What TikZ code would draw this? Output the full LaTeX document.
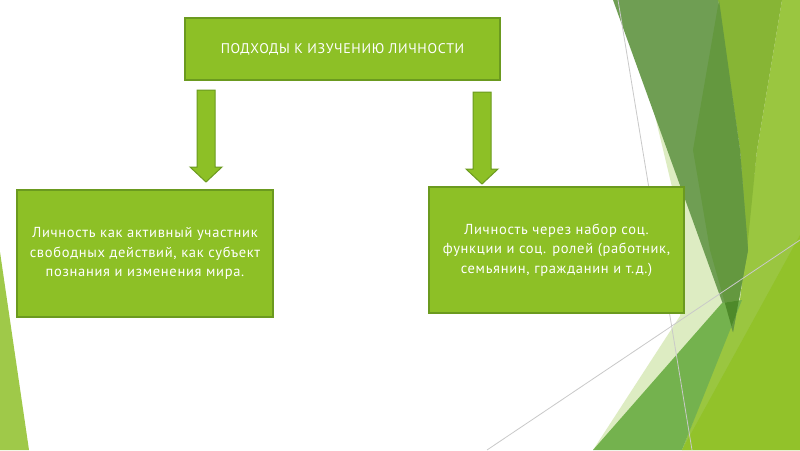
\documentclass[tikz,border=0pt]{standalone}
\usepackage{fontspec}
\setmainfont{PT Sans}[LetterSpace=4.8]
\usetikzlibrary{positioning}
\definecolor{boxgreen}{HTML}{8DC026}
\definecolor{boxedge}{HTML}{6B9A1F}
\definecolor{greygreen}{HTML}{6F9E53}
\definecolor{darkband}{HTML}{64983F}
\definecolor{darktip}{HTML}{4E8A2A}
\definecolor{yellowgreen}{HTML}{87B535}
\definecolor{lightgreen}{HTML}{9AC640}
\definecolor{palegreen}{HTML}{DDECC2}
\definecolor{midgreen}{HTML}{74B24E}
\definecolor{brightgreen}{HTML}{92C22A}
\definecolor{thinline}{HTML}{C9C9C9}
\tikzset{
    block/.style={
           rectangle,
           draw=boxedge, line width=1.2pt,
           fill=boxgreen,
           text=white,
           align=center,
           inner sep=2pt,
           text centered,
           },
    arrowbody/.style={
           draw=boxedge, line width=1pt,
           fill=boxgreen,
           },
    downarr/.pic={
           \draw[arrowbody] (-9,0) -- (-9,77) -- (-16,77) -- (0,92)
                 -- (16,77) -- (9,77) -- (9,0) -- cycle;
           },
}

\begin{document}
\begin{tikzpicture}[x=1pt,y=-1pt]
	\useasboundingbox (0,0) rectangle (800,450);
	\fill[white] (0,0) rectangle (800,450);
	% background facets
	\fill[lightgreen!95!white] (0,252) -- (29,450) -- (0,450) -- cycle;
	\fill[palegreen] (650,95) -- (672,187) -- (683,300) -- (680,316)
		-- (593,450) -- (760,330) -- cycle;
	\fill[lightgreen] (782,0) -- (800,0) -- (800,450) -- (682,450)
		-- (740,300) -- (757,150) -- cycle;
	\fill[yellowgreen] (718,0) -- (782,0) -- (757,150) -- (747,250)
		-- (740,150) -- cycle;
	\fill[greygreen] (613,0) -- (718,0) -- (740,150) -- (748,250)
		-- (733,332) -- cycle;
	\fill[darkband] (719,0) -- (740,150) -- (748,250) -- (733,332)
		-- (710,250) -- (693,150) -- cycle;
	\fill[midgreen] (593,450) -- (682,450) -- (742,300) -- (722,303) -- cycle;
	\begin{scope}
		\clip (593,450) -- (682,450) -- (742,300) -- (722,303) -- cycle;
		\fill[darktip] (719,0) -- (740,150) -- (748,250) -- (733,332)
			-- (710,250) -- (693,150) -- cycle;
	\end{scope}
	\fill[brightgreen] (682,450) -- (800,235) -- (800,450) -- cycle;
	\draw[thinline, line width=0.8pt] (618,0) -- (692,450);
	\draw[thinline, line width=0.8pt] (487,450) -- (800,240);

	% title and the two approaches
	\node[block, minimum width=315pt, minimum height=62pt,
		font=\fontsize{14}{17}\selectfont] (approach) at (342.5,49)
		{ПОДХОДЫ К ИЗУЧЕНИЮ ЛИЧНОСТИ};
	\node[block, minimum width=256pt, minimum height=127pt,
		font=\fontsize{14.5}{19.5}\selectfont] (active) at (145,253.5)
		{Личность как активный участник\\
		 свободных действий, как субъект\\
		 познания и изменения мира.};
	\node[block, minimum width=255pt, minimum height=126pt,
		font=\fontsize{14.5}{19.5}\selectfont] (roles) at (556.5,250)
		{Личность через набор соц.\\
		 функции и соц. ролей (работник,\\
		 семьянин, гражданин и т.д.)};

	\pic (arrL) at (206,90) {downarr};
	\pic (arrR) at (482,92) {downarr};
\end{tikzpicture}
\end{document}
